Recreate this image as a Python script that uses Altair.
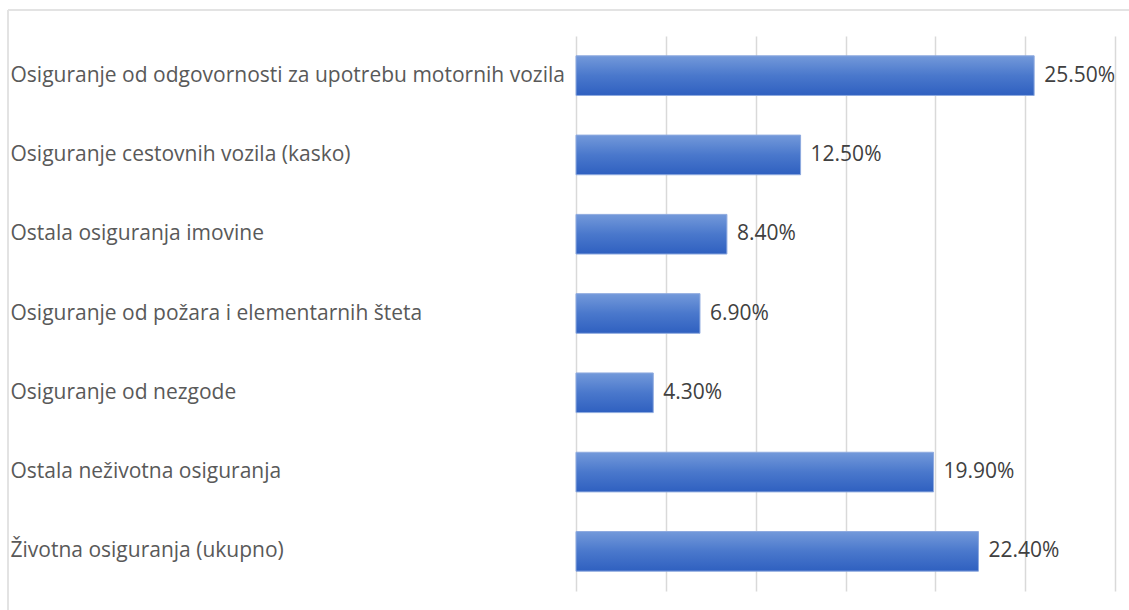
import altair as alt
import pandas as pd

categories = [
    "Osiguranje od odgovornosti za upotrebu motornih vozila",
    "Osiguranje cestovnih vozila (kasko)",
    "Ostala osiguranja imovine",
    "Osiguranje od požara i elementarnih šteta",
    "Osiguranje od nezgode",
    "Ostala neživotna osiguranja",
    "Životna osiguranja (ukupno)",
]
values = [25.5, 12.5, 8.4, 6.9, 4.3, 19.9, 22.4]
labels = ["25.50%", "12.50%", "8.40%", "6.90%", "4.30%", "19.90%", "22.40%"]

df = pd.DataFrame({"cat": categories, "val": values, "lab": labels})

FONT = "Open Sans"
FS = 21
W, H = 539, 555

grad = alt.Gradient(
    gradient="linear",
    x1=0, y1=0, x2=0, y2=1,
    stops=[
        alt.GradientStop(color="#7399da", offset=0),
        alt.GradientStop(color="#4a78cc", offset=0.5),
        alt.GradientStop(color="#2f60c0", offset=1),
    ],
)

y_enc = alt.Y(
    "cat:N",
    sort=categories,
    title=None,
    scale=alt.Scale(paddingInner=0.5, paddingOuter=0.25),
    axis=alt.Axis(
        labelAlign="left",
        labelPadding=566,
        ticks=False,
        tickSize=0,
        domain=False,
        grid=False,
        labelFont=FONT,
        labelFontSize=FS,
        labelColor="#595959",
        labelLimit=600,
    ),
)

x_enc = alt.X(
    "val:Q",
    title=None,
    scale=alt.Scale(domain=[0, 30], nice=False),
    axis=alt.Axis(
        values=[0, 5, 10, 15, 20, 25, 30],
        labels=False,
        ticks=False,
        domain=False,
        grid=True,
        gridColor="#d9d9d9",
        gridWidth=1.5,
    ),
)

frame_top = alt.Chart(df).mark_rule(
    stroke="#e3e3e3", strokeWidth=1.5, clip=False
).encode(x=alt.value(-568), x2=alt.value(W + 800), y=alt.value(-26))

frame_left = alt.Chart(df).mark_rule(
    stroke="#e3e3e3", strokeWidth=1.5, clip=False
).encode(x=alt.value(-568), y=alt.value(-26), y2=alt.value(H + 800))

bars = alt.Chart(df).mark_bar(
    color=grad, stroke="#8eaadf", strokeWidth=1
).encode(x=x_enc, y=y_enc)

text = alt.Chart(df).mark_text(
    align="left", baseline="middle", dx=10, font=FONT, fontSize=FS, color="#404040"
).encode(x="val:Q", y=alt.Y("cat:N", sort=categories), text="lab:N")

chart = alt.layer(bars, text, frame_top, frame_left).properties(
    width=W,
    height=H,
    background="white",
    padding={"left": 576, "top": 36, "right": 14, "bottom": 19},
    autosize=alt.AutoSizeParams(type="none"),
).configure_view(stroke=None, strokeWidth=0).configure_axis(domain=False)

chart.save("out.html", embed_options={"renderer": "svg", "actions": False})
